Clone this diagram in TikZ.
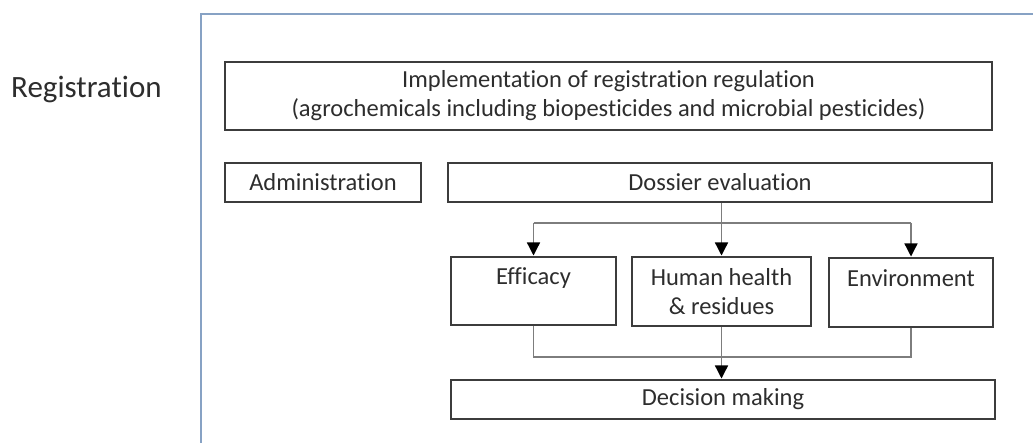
\documentclass[tikz,border=0pt]{standalone}
\usepackage{fontspec}
\setmainfont{Carlito}[Ligatures=NoCommon]
\usetikzlibrary{arrows.meta}
\definecolor{framecol}{RGB}{135,162,196}
\definecolor{boxcol}{RGB}{60,60,60}
\definecolor{txtcol}{RGB}{45,45,45}
\definecolor{conncol}{RGB}{125,125,125}
\begin{document}
\begin{tikzpicture}[x=1pt,y=-1pt,
  box/.style={draw=boxcol,line width=2pt,fill=white,inner sep=0pt,align=center,
    text=txtcol,font=\fontsize{24.5}{29}\selectfont},
  conn/.style={draw=conncol,line width=1.3pt},
  arr/.style={conn,-{Triangle[width=13pt,length=13pt,fill=black,color=black]},shorten >=0.5pt}]
\useasboundingbox (0,0) rectangle (1033,443);
\fill[white] (0,0) rectangle (1033,443);
% frame
\draw[framecol,line width=1.8pt] (201,443) -- (201,14) -- (1033,14);
% title
\node[anchor=base west,inner sep=0pt,text=txtcol,font=\fontsize{31}{36}\selectfont] (reg) at (11,98) {Registration};
% boxes
\node[box,minimum width=767pt,minimum height=68pt] (top) at (608.5,96) {Implementation of registration regulation\\(agrochemicals including biopesticides and microbial pesticides)};
\node[box,minimum width=196pt,minimum height=39pt] (admin) at (323,182.5) {Administration};
\node[box,minimum width=544pt,minimum height=39pt] (dossier) at (720,182.5) {Dossier evaluation};
\node[box,minimum width=165pt,minimum height=68pt] (eff) at (533.5,291) {Efficacy\\\phantom{X}};
\node[box,minimum width=179pt,minimum height=69pt] (human) at (721.5,291.5) {Human health\\\& residues};
\node[box,minimum width=164pt,minimum height=69pt] (env) at (911,292.5) {Environment\\\phantom{X}};
\node[box,minimum width=544pt,minimum height=39pt] (decision) at (723,399.5) {Decision making};
% connectors
\coordinate (split) at (722,223);
\coordinate (merge) at (722,357);
\draw[arr] (dossier.south -| human.north) -- (human.north);
\draw[conn] (eff.north |- split) -- (env.north |- split);
\draw[arr] (eff.north |- split) -- (eff.north);
\draw[arr] (env.north |- split) -- (env.north);
\draw[conn] (eff.south) -- (eff.south |- merge) -- (env.south |- merge) -- (env.south);
\draw[arr] (human.south) -- (human.south |- decision.north);
\end{tikzpicture}
\end{document}
